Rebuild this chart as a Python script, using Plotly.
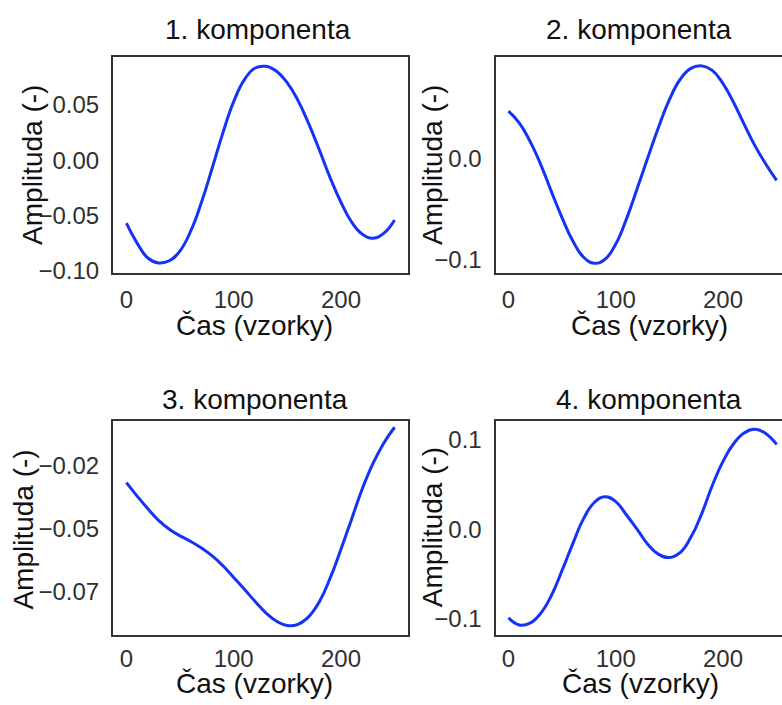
import plotly.graph_objects as go

# ---------------- data ----------------
samples = [0, 10, 20, 30, 40, 50, 60, 70, 80, 90, 100, 110, 120, 130, 140,
           150, 160, 170, 180, 190, 200, 210, 220, 230, 240, 250]

comp1 = [-0.057, -0.075, -0.0885, -0.093, -0.091, -0.082, -0.064, -0.038, -0.007,
         0.025, 0.053, 0.073, 0.0835, 0.085, 0.0805, 0.070, 0.054, 0.033, 0.009,
         -0.016, -0.038, -0.056, -0.067, -0.0705, -0.066, -0.054]

comp2 = [0.0466, 0.035, 0.017, -0.006, -0.033, -0.059, -0.082, -0.098, -0.104,
         -0.100, -0.085, -0.060, -0.030, 0.001, 0.031, 0.058, 0.078, 0.089, 0.0915,
         0.087, 0.074, 0.055, 0.033, 0.012, -0.006, -0.022]

comp3 = [-0.0269, -0.0322, -0.0372, -0.0418, -0.0453, -0.0479, -0.0501, -0.0527, -0.0558,
         -0.0597, -0.0643, -0.069, -0.0738, -0.0783, -0.0816, -0.0833, -0.0828, -0.0798,
         -0.0738, -0.0645, -0.0532, -0.0412, -0.0292, -0.0192, -0.0112, -0.005]

comp4 = [-0.099, -0.107, -0.105, -0.094, -0.074, -0.046, -0.016, 0.012, 0.030,
         0.0365, 0.031, 0.016, 0.000, -0.017, -0.028, -0.0315, -0.026, -0.009, 0.017,
         0.049, 0.076, 0.096, 0.108, 0.112, 0.107, 0.095]

titles = ["1. komponenta", "2. komponenta", "3. komponenta", "4. komponenta"]
x_label = "Čas (vzorky)"
y_label = "Amplituda (-)"

x_ticks = [0, 100, 200]
y_ticks1 = [-0.10, -0.05, 0.00, 0.05]
y_text1 = ["−0.10", "−0.05", "0.00", "0.05"]
y_ticks2 = [-0.1, 0.0]
y_text2 = ["−0.1", "0.0"]
y_ticks3 = [-0.07, -0.045, -0.02]
y_text3 = ["−0.07", "−0.05", "−0.02"]
y_ticks4 = [-0.1, 0.0, 0.1]
y_text4 = ["−0.1", "0.0", "0.1"]

# ---------------- layout helpers ----------------
W, H = 782, 705
def px(x):
    return x / W
def py(y):
    return 1 - y / H

FONT = "Liberation Sans, Arial, Helvetica, sans-serif"
LINE_COLOR = "#1433f5"
FRAME = "#333333"
TICK_COLOR = "#303030"
TEXT_COLOR = "#111111"

col_dom = [[px(113), px(408)], [px(495.5), 1.0]]
row_dom = [[py(277.7), py(58.3)], [py(645.5), py(427.3)]]
x_ranges = [[-12.5, 262.5], [-12.1, 255.0]]
y_ranges = [[-0.1024, 0.0931], [-0.114, 0.0999], [-0.0872, -0.0024], [-0.1187, 0.1216]]
y_tick_sets = [(y_ticks1, y_text1), (y_ticks2, y_text2), (y_ticks3, y_text3), (y_ticks4, y_text4)]
x_standoff = [4, 1]
series = [comp1, comp2, comp3, comp4]

fig = go.Figure()
layout = dict(
    width=W, height=H,
    margin=dict(l=0, r=0, t=0, b=0),
    paper_bgcolor="white", plot_bgcolor="white",
    showlegend=False,
    font=dict(family=FONT, color=TEXT_COLOR),
)

for i in range(4):
    r, c = divmod(i, 2)
    n = "" if i == 0 else str(i + 1)
    fig.add_trace(go.Scatter(
        x=samples, y=series[i], mode="lines",
        line=dict(color=LINE_COLOR, width=3, shape="spline", smoothing=1.3),
        xaxis="x" + n, yaxis="y" + n, hoverinfo="skip",
    ))
    tv, tt = y_tick_sets[i]
    layout["xaxis" + n] = dict(
        domain=col_dom[c], range=x_ranges[c], anchor="y" + n,
        showgrid=False, zeroline=False, showline=True, linecolor=FRAME,
        linewidth=2, mirror=True, ticks="", tickvals=x_ticks,
        ticktext=[str(v) for v in x_ticks],
        tickfont=dict(size=24, color=TICK_COLOR, family=FONT),
        ticklabelstandoff=x_standoff[r],
    )
    layout["yaxis" + n] = dict(
        domain=row_dom[r], range=y_ranges[i], anchor="x" + n,
        showgrid=False, zeroline=False, showline=True, linecolor=FRAME,
        linewidth=2, mirror=(c == 0), ticks="", tickvals=tv, ticktext=tt,
        tickfont=dict(size=24, color=TICK_COLOR, family=FONT),
        ticklabelstandoff=7,
    )

fig.update_layout(**layout)

# titles / axis labels as annotations
title_pos = [(258, 30), (639, 29.5), (254.5, 406), (648.5, 406)]
xlab_pos = [(254.5, 331), (649, 331), (254.5, 694), (640, 694)]
ylab_pos = [(32.5, 168), (432.5, 168), (24, 538), (432.5, 536)]
annotations = []
for i in range(4):
    annotations.append(dict(text=titles[i], x=px(title_pos[i][0]), y=py(title_pos[i][1]),
                            xref="paper", yref="paper", showarrow=False,
                            xanchor="center", yanchor="middle",
                            font=dict(size=28, color=TEXT_COLOR, family=FONT)))
    annotations.append(dict(text=x_label, x=px(xlab_pos[i][0]), y=py(xlab_pos[i][1]),
                            xref="paper", yref="paper", showarrow=False,
                            xanchor="center", yanchor="middle",
                            font=dict(size=28, color=TEXT_COLOR, family=FONT)))
    annotations.append(dict(text=y_label, x=px(ylab_pos[i][0]), y=py(ylab_pos[i][1]),
                            xref="paper", yref="paper", showarrow=False, textangle=-90,
                            xanchor="center", yanchor="middle",
                            font=dict(size=28, color=TEXT_COLOR, family=FONT)))
fig.update_layout(annotations=annotations)

fig.write_html("out.html")
